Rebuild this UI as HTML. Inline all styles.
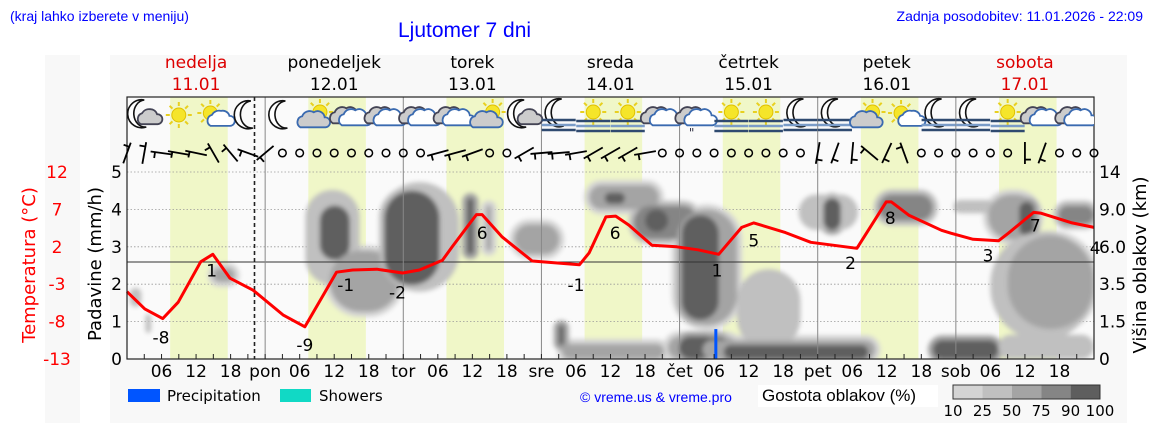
<!DOCTYPE html>
<html><head><meta charset="utf-8">
<style>
html,body{margin:0;padding:0;background:#fff;}
svg{display:block;}
.dj{font-family:"DejaVu Sans","Liberation Sans",sans-serif;}
.lb{font-family:"Liberation Sans",sans-serif;}
</style></head>
<body>
<svg id="chart" width="1152" height="443" viewBox="0 0 1152 443" xmlns="http://www.w3.org/2000/svg">
<defs>
<filter id="blur" x="-20%" y="-20%" width="140%" height="140%"><feGaussianBlur stdDeviation="2.4"/></filter>
<clipPath id="plotclip"><rect x="127" y="97" width="967" height="262"/></clipPath>
</defs>
<rect x="45" y="55" width="35" height="368" fill="#f8f8f8"/>
<rect x="110" y="55" width="1017" height="368" fill="#f8f8f8"/>
<text class="lb" x="10" y="21" font-size="14" fill="#0000ff">(kraj lahko izberete v meniju)</text>
<text class="lb" x="398" y="37" font-size="21" fill="#0000ff">Ljutomer 7 dni</text>
<text class="lb" x="1143" y="21" font-size="14" fill="#0000ff" text-anchor="end">Zadnja posodobitev: 11.01.2026 - 22:09</text>
<g id="daylabels" class="dj" font-size="17" text-anchor="middle"></g>
<g id="plot"></g>
<text class="dj" transform="translate(35,265) rotate(-90)" font-size="18" fill="#ff0000" text-anchor="middle">Temperatura (°C)</text>
<text class="dj" transform="translate(101,264) rotate(-90)" font-size="18" fill="#000" text-anchor="middle">Padavine (mm/h)</text>
<text class="dj" transform="translate(1146,265) rotate(-90)" font-size="18" fill="#000" text-anchor="middle">Višina oblakov (km)</text>
<g>
<rect x="128" y="389" width="32" height="13" fill="#0055ff"/>
<text class="dj" x="167" y="401" font-size="15">Precipitation</text>
<rect x="280" y="389" width="31" height="13" fill="#11d9c5"/>
<text class="dj" x="319" y="401" font-size="15">Showers</text>
<text class="lb" x="580" y="402" font-size="14" fill="#0000ff">© vreme.us &amp; vreme.pro</text>
<rect x="758" y="385" width="180" height="22" fill="#fff"/>
<text class="lb" x="762" y="401" font-size="17">Gostota oblakov (%)</text>
<g id="colorbar"></g>
</g>
</svg>
<script>
// ---- data ----
const tempHours=[0,3.1,6.2,8.9,12.8,14.9,17.9,21.9,27.1,30.9,36.4,39.2,43.4,47.9,50.8,54.8,56.5,60.7,61.7,65.2,70.4,78.6,80.3,83.2,84.9,87.2,91.2,95.5,99.2,102.8,106.8,108.9,114.4,118.8,126.8,131.9,132.8,135.9,141.5,143.2,147,151.4,153.1,157.5,158.7,164.2,168];
const tempValues=[-4.0,-6.3,-7.6,-5.4,0,1.0,-2.2,-3.8,-7.1,-8.7,-1.4,-1.1,-1.0,-1.5,-1.1,0.2,2.0,6.3,6.3,3.3,0.1,-0.4,1.2,6.0,6.1,4.9,2.2,2.0,1.6,1.0,4.6,5.2,3.9,2.6,1.8,8.0,8.0,6.2,4.2,3.8,3.0,2.8,3.8,6.6,6.5,5.2,4.6];
const tempLabelHours=[5.9,14.7,30.9,38,47,61.7,78,84.8,102.5,108.9,125.7,132.6,149.6,157.8,168.2];
const tempLabelValues=[-8,1,-9,-1,-2,6,-1,6,1,5,2,8,3,7,4];
const dayNames=["nedelja","ponedeljek","torek","sreda","četrtek","petek","sobota"];
const dayDates=["11.01","12.01","13.01","14.01","15.01","16.01","17.01"];
const dayAbbr=["","pon","tor","sre","čet","pet","sob"];
const precipTicks=[0,1,2,3,4,5];
const tempTicks=[12,7,2,-3,-8,-13];
const heightTicks=["0","1.5","3.5","6.0","9.0","14"];
// cloud patches
const cloudStart=[14.9,0.5,3.2,31,33.5,35.2,43.9,44.7,59.1,62.4,67.3,80.3,83,88,90,95.5,96.4,106,116.7,121,130.6,143.6,149.6,155,150,153,161.8,75.6,94,95.9,100,103.7,140,151.4,75,170.5];
const cloudEnd=[18.7,2.5,4.2,40.4,38.7,47.3,57.7,54.3,60.2,63.3,75.1,92.4,86.5,99.4,94,106,102.8,117,127,124,140,150.5,158.3,157.6,168,168,168,93.3,106,104.6,130,128.8,151.4,168,75.9,171];
const cloudLow=[2.06,1.4,0.7,1.98,2.65,1.26,1.8,1.98,2.8,2.9,2.8,4.0,4.15,3.2,3.4,0.9,1.05,0.25,3.45,3.45,3.7,3.9,3.2,3.3,0.5,0.8,3.6,0,0,0,0,0,0,0,0.37,0];
const cloudHigh=[2.43,1.9,1.2,4.52,4.1,2.9,4.73,4.5,4.3,4.1,3.6,4.65,4.45,4.1,4.0,4.0,3.85,2.4,4.4,4.3,4.4,4.25,4.4,4.2,3.4,3.3,4.1,0.4,0.6,0.6,0.5,0.37,0.5,0.65,0.9,0];
const cloudLevel=[2,1,1,1,4,2,1,4,4,2,2,2,4,3,4,2,4,1,1,4,3,1,2,4,1,2,3,2,2,4,2,4,4,1,4,0];
const precipHours=[102.3];
const precipValues=[0.8];
const iconTypes=["moonCloud","sun","sunCloud","moon","moon","cloudSun","cloud","cloud","cloud","cloud","cloudSun","moonCloud","moonFog","sunFog","sunFog","cloud","cloudRain","sunFog","sunFog","moonFog","moonFog","cloudSun","sunCloud","moonFog","moonFog","sunFog","cloud","cloud"];
const windAngles=[110,100,8,10,12,60,50,20,-40,null,null,null,null,null,null,null,null,null,-15,-15,-20,null,null,-30,-5,-5,-10,-30,-30,-30,-10,null,null,null,null,null,null,null,null,null,-80,-70,-85,40,-65,70,null,null,null,null,null,null,-90,-70,null,null,null];
const densityLabels=["10","25","50","75","90","100"];
const levelColors=["#d4d4d4","#c0c0c0","#a4a4a4","#858585","#5e5e5e"];

// ---- scales ----
const X0=127, X1=1094, YB=359, YT=172;
const xH=h=>X0+h*(X1-X0)/168;
const yP=v=>YB-v*(YB-YT)/5;
const yT=t=>YB-(t+13)*(YB-YT)/25;
const NS="http://www.w3.org/2000/svg";
function mk(tag,attrs,parent){const e=document.createElementNS(NS,tag);for(const k in attrs)e.setAttribute(k,attrs[k]);parent.appendChild(e);return e;}

const plot=document.getElementById('plot');
let bg=mk('rect',{x:X0,y:97,width:X1-X0,height:262,fill:'#fafafa'},plot);


for(let d=0;d<7;d++){
  const r=mk('rect',{x:xH(d*24+7.5),y:97,width:xH(17.5)-xH(7.5),height:262,fill:'#f0f7c8'},plot);
  
  
}
precipTicks.forEach(v=>{ if(v>0){const l=mk('line',{x1:X0,x2:X1,y1:yP(v),y2:yP(v),stroke:'#999','stroke-width':0.8,'stroke-dasharray':'1.5,2'},plot);
  
  }});
const cg=mk('g',{filter:'url(#blur)','clip-path':'url(#plotclip)'},plot);


// halos first
for(let i=0;i<cloudStart.length;i++){
  if(cloudLevel[i]<2) continue;
  const x=xH(cloudStart[i])-5,w=Math.max(2,xH(cloudEnd[i])-xH(cloudStart[i]))+10,y=yP(cloudHigh[i])-5,h=Math.max(2,yP(cloudLow[i])-yP(cloudHigh[i]))+10;
  const c=mk('rect',{x:x,y:y,width:w,height:h,rx:Math.min(w,h)/2,fill:levelColors[cloudLevel[i]-2]},cg);
  
  
}
for(let i=0;i<cloudStart.length;i++){
  const x=xH(cloudStart[i]),w=Math.max(2,xH(cloudEnd[i])-x),y=yP(cloudHigh[i]),h=Math.max(2,yP(cloudLow[i])-y);
  const c=mk('rect',{x:x,y:y,width:w,height:h,rx:Math.min(w,h)/2,fill:levelColors[cloudLevel[i]]},cg);
  
  
}
let ref=mk('line',{x1:X0,x2:X1,y1:262,y2:262,stroke:'#333','stroke-width':1},plot);


for(let d=1;d<7;d++){const l=mk('line',{x1:xH(d*24),x2:xH(d*24),y1:97,y2:YB,stroke:'#888','stroke-width':1},plot);
  
  }
let nl=mk('line',{x1:xH(22.15),x2:xH(22.15),y1:97,y2:YB,stroke:'#222','stroke-width':1.6,'stroke-dasharray':'4,3'},plot);


precipHours.forEach((h,i)=>{const b=mk('rect',{x:xH(h)-1.5,y:yP(precipValues[i]),width:3,height:YB-yP(precipValues[i]),fill:'#0055ff'},plot);
  
  });
let pts=tempHours.map((h,i)=>xH(h).toFixed(1)+','+yT(tempValues[i]).toFixed(1)).join(' ');
let tl=mk('polyline',{points:pts,fill:'none',stroke:'#ff0000','stroke-width':3,'stroke-linejoin':'round'},plot);


tempLabelHours.forEach((h,i)=>{const t=mk('text',{x:xH(h),y:yT(tempLabelValues[i])+22,'font-size':17,'text-anchor':'middle','class':'dj'},plot);t.textContent=tempLabelValues[i];
  
  });
let fr=mk('rect',{x:X0,y:97,width:X1-X0,height:262,fill:'none',stroke:'#222','stroke-width':1.2},plot);


for(let h=3;h<168;h+=3){const t=mk('line',{x1:xH(h),x2:xH(h),y1:YB-5,y2:YB,stroke:'#222'},plot);
  
  }
for(let d=0;d<7;d++){
  ["06","12","18"].forEach((s,j)=>{const t=mk('text',{x:xH(d*24+6*(j+1)),y:377,'font-size':17,'text-anchor':'middle','class':'dj'},plot);t.textContent=s;
    
    });
  if(d>0){const t=mk('text',{x:xH(d*24),y:377,'font-size':17,'text-anchor':'middle','class':'dj'},plot);t.textContent=dayAbbr[d];
    
    }
}
precipTicks.forEach(v=>{const t=mk('text',{x:122,y:yP(v)+6,'font-size':17,'text-anchor':'end','class':'dj'},plot);t.textContent=v;
  
  });
tempTicks.forEach(v=>{const t=mk('text',{x:57,y:yT(v)+6,'font-size':17,'text-anchor':'middle',fill:'#ff0000','class':'dj'},plot);t.textContent=v;
  
  });
heightTicks.forEach((s,i)=>{const t=mk('text',{x:1099,y:yP(i)+6,'font-size':17,'class':'dj'},plot);t.textContent=s;
  
  });
const dl=document.getElementById('daylabels');
for(let d=0;d<7;d++){
  const col=(d==0||d==6)?'#dd0000':'#000';
  const a=mk('text',{x:xH(d*24+12),y:68,fill:col},dl);a.textContent=dayNames[d];
  
  
  const b=mk('text',{x:xH(d*24+12),y:90,fill:col},dl);b.textContent=dayDates[d];
  
  
}
function sun(g,cx,cy,r){for(let k=0;k<8;k++){const a=k*Math.PI/4;mk('line',{x1:cx+Math.cos(a)*(r+2),y1:cy+Math.sin(a)*(r+2),x2:cx+Math.cos(a)*(r+6),y2:cy+Math.sin(a)*(r+6),stroke:'#e8d020','stroke-width':2},g);}
  mk('circle',{cx:cx,cy:cy,r:r,fill:'#f5e52a',stroke:'#e0c000'},g);}
function moon(g,cx,cy){mk('path',{d:`M${cx+3},${cy-14} A14,14 0 1,0 ${cx+5},${cy+13} A11,13 0 0,1 ${cx+3},${cy-14} Z`,fill:'#fff',stroke:'#111','stroke-width':1.6},g);}
function cloud(g,cx,cy,s,fill,stroke){mk('path',{d:`M${cx-14*s},${cy+7*s} a6,6 0 0,1 ${2*s},-11 a8,8 0 0,1 ${13*s},-4 a7,7 0 0,1 ${12*s},5 a5,5 0 0,1 ${1*s},10 Z`,fill:fill,stroke:stroke,'stroke-width':1.8},g);}
function fog(g,cx,cy){[0,5,10].forEach((o,i)=>mk('line',{x1:cx-17,x2:cx+17,y1:cy+o,y2:cy+o,stroke:i==1?'#7a9cc8':'#2f4a70','stroke-width':2.5},g));}
iconTypes.forEach((tp,i)=>{
  const g=mk('g',{'clip-path':'url(#plotclip)'},plot);
  
  
  const cx=xH(3+6*i),cy=115;
  if(tp=="sun")sun(g,cx,cy,7);
  if(tp=="sunCloud"){sun(g,cx-3,cy-2,7);cloud(g,cx+7,cy+6,0.7,'#fff','#3a6ab0');}
  if(tp=="cloudSun"){sun(g,cx+3,cy-3,7);cloud(g,cx-4,cy+6,0.9,'#ccc','#3a6ab0');}
  if(tp=="cloud"||tp=="cloudRain"){cloud(g,cx-6,cy+2,0.9,'#ccc','#445');cloud(g,cx+3,cy+4,0.9,'#fff','#3a6ab0');if(tp=="cloudRain"){const t=mk('text',{x:cx-8,y:cy+22,'font-size':12,'class':'dj',fill:'#334'},g);t.textContent='"';}}
  if(tp=="moon")moon(g,cx,cy);
  if(tp=="moonCloud"){moon(g,cx-3,cy-1);cloud(g,cx+5,cy+5,0.6,'#ccc','#445');}
  if(tp=="moonFog"){moon(g,cx,cy-2);fog(g,cx,cy+5);}
  if(tp=="sunFog"){sun(g,cx,cy-3,7);fog(g,cx,cy+6);}
});
windAngles.forEach((a,k)=>{
  const cx=xH(3*k),cy=153;
  if(a===null){const c=mk('circle',{cx:cx,cy:cy,r:3.8,fill:'none',stroke:'#000','stroke-width':1.5},plot);
    
    return;}
  const r=a*Math.PI/180,dx=Math.cos(r)*11,dy=Math.sin(r)*11;
  const g=mk('g',{stroke:'#000','stroke-width':1.8,fill:'none'},plot);
  
  
  mk('line',{x1:cx-dx,y1:cy-dy,x2:cx+dx,y2:cy+dy},g);
  const px=-Math.sin(r)*6,py=Math.cos(r)*6;
  mk('line',{x1:cx-dx*0.6,y1:cy-dy*0.6,x2:cx-dx*0.6+px,y2:cy-dy*0.6+py},g);
});
const cb=document.getElementById('colorbar');
levelColors.forEach((c,i)=>{const r=mk('rect',{x:953+i*29.4,y:385,width:29.4,height:14,fill:c},cb);
  
  });
mk('rect',{x:953,y:385,width:147,height:14,fill:'none',stroke:'#333'},cb);
densityLabels.forEach((s,i)=>{const t=mk('text',{x:953+i*29.4,y:416,'font-size':15,'text-anchor':'middle','class':'dj'},cb);t.textContent=s;
  
  });
</script>
</body></html>
